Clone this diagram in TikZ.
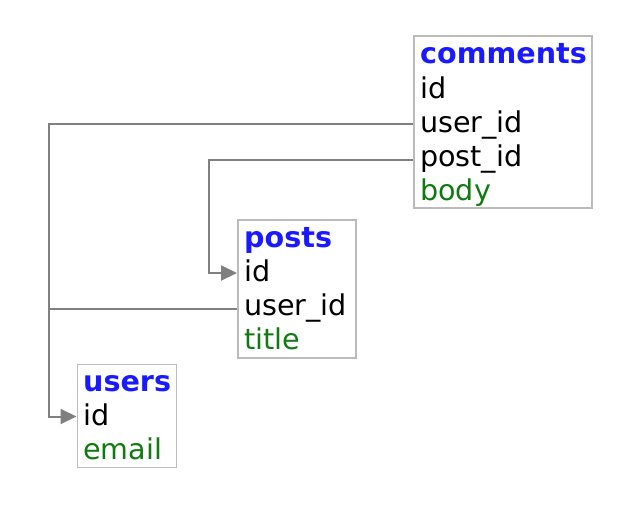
\documentclass[tikz,border=0pt]{standalone}
\usepackage{fontspec}
\setmainfont{DejaVu Sans}
\usetikzlibrary{arrows.meta}
\definecolor{tblue}{HTML}{1A1AFF}
\definecolor{tgreen}{HTML}{107A10}
\definecolor{lnk}{HTML}{808080}
\definecolor{brd}{HTML}{BBBBBB}
\begin{document}
\begin{tikzpicture}[x=1pt,y=-1pt,
  tbl/.style={draw=brd,line width=1.8pt,inner sep=0pt,anchor=north west},
  row/.style={anchor=base west,inner sep=0pt,font=\fontsize{28.6}{34}\selectfont},
  ttl/.style={row,font=\fontsize{28.6}{34}\selectfont\bfseries,text=tblue},
  attr/.style={row,text=tgreen},
  link/.style={draw=lnk,line width=2pt},
  fk/.style={link,-{Triangle[length=16pt,width=15pt]}}]
\useasboundingbox (0,0) rectangle (636,506);
% tables
\node[tbl,minimum width=178pt,minimum height=172pt] (comments) at (413,35) {};
\node[tbl,minimum width=118pt,minimum height=138pt] (posts) at (237,219) {};
\node[tbl,minimum width=99pt,minimum height=103pt] (users) at (76.5,363.5) {};
% comments rows
\node[ttl] (ct) at (420,63) {comments};
\node[row] (cid) at (420,98) {id};
\node[row] (cuid) at (420,132) {user\_id};
\node[row] (cpid) at (420,166) {post\_id};
\node[attr] (cbody) at (420,200) {body};
% posts rows
\node[ttl] (pt) at (244,247) {posts};
\node[row] (pid) at (244,281) {id};
\node[row] (puid) at (244,315) {user\_id};
\node[attr] (ptitle) at (244,349) {title};
% users rows
\node[ttl] (ut) at (83,391) {users};
\node[row] (uid) at (83,425) {id};
\node[attr] (uemail) at (83,459) {email};
% connector ends
\coordinate (cu) at (413,124);
\coordinate (cp) at (413,160);
\coordinate (pi) at (237,273);
\coordinate (pu) at (237,308.5);
\coordinate (ui) at (76.5,416.5);
\coordinate (ka) at (49,124);
\coordinate (kb) at (49,416.5);
\coordinate (kc) at (209,160);
\coordinate (kd) at (209,273);
\coordinate (j) at (49,308.5);
% connectors
\draw[fk] (cu) -- (ka) -- (kb) -- (ui);
\draw[link] (pu) -- (j);
\draw[fk] (cp) -- (kc) -- (kd) -- (pi);
\end{tikzpicture}
\end{document}
